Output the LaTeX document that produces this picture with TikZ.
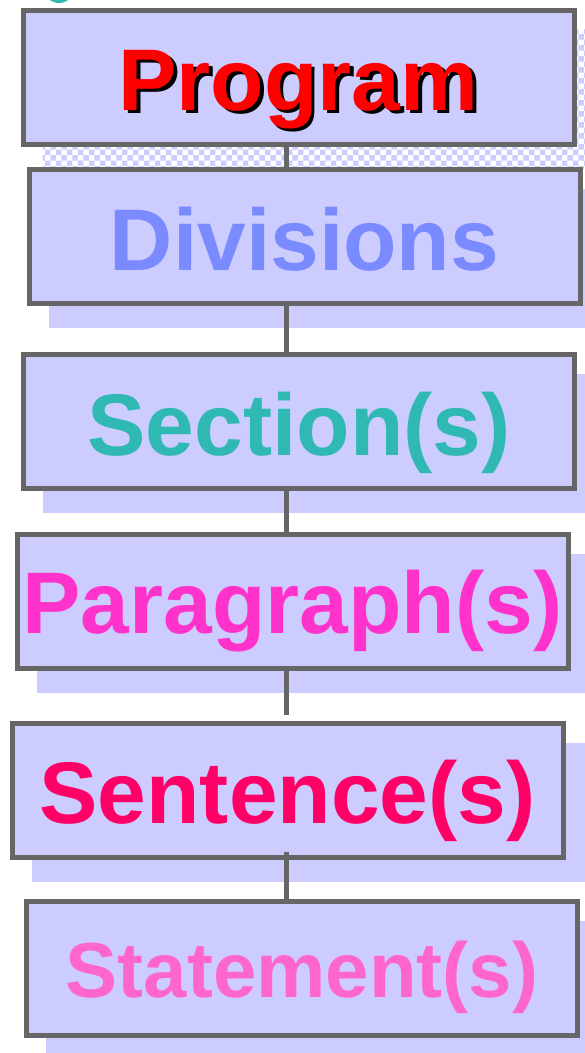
\documentclass[tikz,border=0pt]{standalone}
\usepackage{fontspec}
\setmainfont{Liberation Sans}
\usetikzlibrary{calc,patterns}
\definecolor{boxc}{HTML}{CCCCFF}
\definecolor{bordc}{HTML}{666666}
\definecolor{shadowc}{HTML}{CCCCFF}
\definecolor{progc}{HTML}{FF0000}
\definecolor{divc}{HTML}{7A8AFF}
\definecolor{secc}{HTML}{30B8B4}
\definecolor{parc}{HTML}{FF33CC}
\definecolor{senc}{HTML}{FF0066}
\definecolor{stmc}{HTML}{FF66CC}
\definecolor{tealc}{HTML}{2EB8B0}
\pgfdeclarelayer{bg}
\pgfsetlayers{bg,main}
\tikzset{
  box/.style={draw=bordc, fill=boxc, line width=5pt, minimum width=551pt,
    minimum height=134pt, inner sep=0pt, text depth=0pt,
    font=\bfseries\fontsize{87.5}{87.5}\selectfont},
  conn/.style={draw=bordc, line width=5pt, line cap=butt},
  shadowbox/.style={fill=shadowc},
}
\begin{document}
\begin{tikzpicture}[x=1pt,y=-1pt]
\useasboundingbox (0,0) rectangle (585,1053);
\clip (0,0) rectangle (585,1053);
\fill[tealc] (59,-12) circle (15pt);
\node[box, text=progc, text height=66pt] (prog) at (298.5,77)
  {\makebox[0pt][l]{\hspace*{3.5pt}\raisebox{-3.5pt}{\color{black}Program}}Program};
\node[box, text=divc, text height=67pt] (div) at (304.5,236.5) {Divisions};
\node[box, text=secc, text height=67pt] (sec) at (299,421.5) {Section(s)};
\node[box, text=parc, text height=63pt] (par) at (292.5,601.5) {Paragraph(s)};
\node[box, text=senc, text height=65pt] (sen) at (287.5,790.5) {Sentence(s)};
\node[box, text=stmc, text height=58pt, font=\bfseries\fontsize{78}{78}\selectfont] (stm) at (302,968) {Statement(s)};
\begin{pgfonlayer}{bg}
  \fill[pattern=checkerboard, pattern color=shadowc]
    ([shift={(22pt,-22pt)}]prog.south west) rectangle ([shift={(22pt,-22pt)}]prog.north east);
  \foreach \n in {div,sec,par,sen,stm}{
    \fill[shadowbox] ([shift={(22pt,-22pt)}]\n.south west) rectangle ([shift={(22pt,-22pt)}]\n.north east);
  }
\end{pgfonlayer}
\coordinate (cx) at (286.5,0);
\draw[conn] (cx |- prog.south) -- (cx |- div.north);
\draw[conn] (cx |- div.south) -- (cx |- sec.north);
\draw[conn] (cx |- sec.south) -- (cx |- par.north);
\draw[conn] (cx |- par.south) -- ($(cx |- sen.north)+(0,-6)$);
\draw[conn] ($(cx |- sen.south)+(0,-8)$) -- (cx |- stm.north);
\end{tikzpicture}
\end{document}
